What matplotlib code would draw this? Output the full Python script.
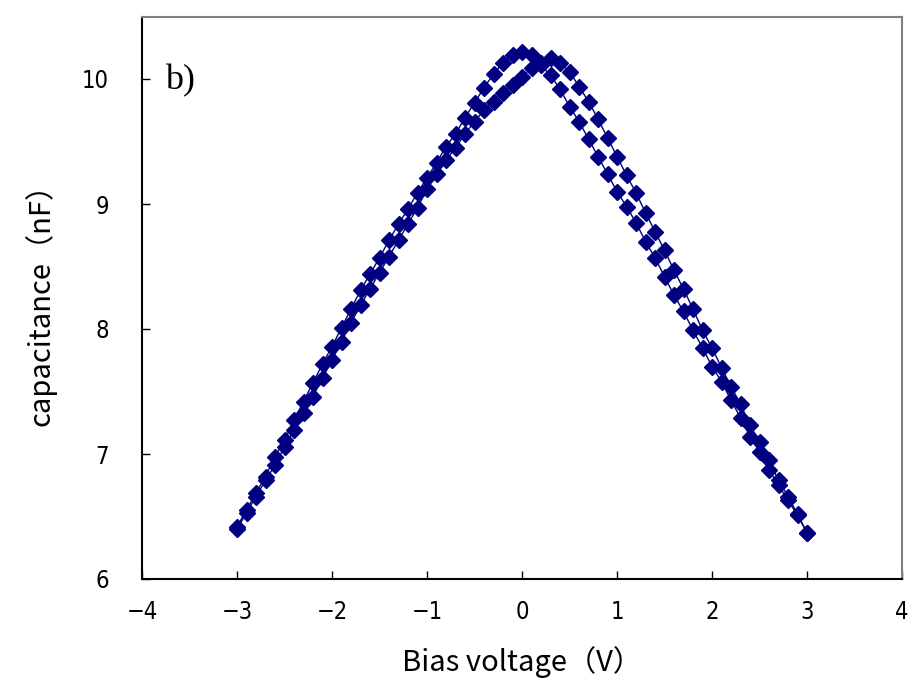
import matplotlib
matplotlib.use("Agg")
import matplotlib.pyplot as plt

# bias voltage steps (V)
voltage = [-3.0, -2.9, -2.8, -2.7, -2.6, -2.5, -2.4, -2.3, -2.2, -2.1,
           -2.0, -1.9, -1.8, -1.7, -1.6, -1.5, -1.4, -1.3, -1.2, -1.1,
           -1.0, -0.9, -0.8, -0.7, -0.6, -0.5, -0.4, -0.3, -0.2, -0.1,
           0.0, 0.1, 0.2, 0.3, 0.4, 0.5, 0.6, 0.7, 0.8, 0.9,
           1.0, 1.1, 1.2, 1.3, 1.4, 1.5, 1.6, 1.7, 1.8, 1.9,
           2.0, 2.1, 2.2, 2.3, 2.4, 2.5, 2.6, 2.7, 2.8, 2.9, 3.0]

# branch peaking near 0 V (nF)
cap_a = [6.42, 6.55, 6.69, 6.82, 6.98, 7.11, 7.27, 7.42, 7.57, 7.72,
         7.86, 8.01, 8.16, 8.31, 8.44, 8.57, 8.71, 8.84, 8.96, 9.09,
         9.21, 9.33, 9.46, 9.56, 9.69, 9.81, 9.93, 10.04, 10.13, 10.19,
         10.22, 10.19, 10.11, 10.03, 9.92, 9.78, 9.66, 9.52, 9.38, 9.24,
         9.10, 8.98, 8.85, 8.70, 8.57, 8.42, 8.27, 8.14, 7.99, 7.85,
         7.70, 7.58, 7.43, 7.29, 7.14, 7.02, 6.87, 6.75, 6.63, 6.51, 6.37]

# branch peaking near +0.3 V (nF)
cap_b = [6.40, 6.53, 6.66, 6.79, 6.91, 7.06, 7.19, 7.33, 7.46, 7.61,
         7.75, 7.90, 8.05, 8.19, 8.32, 8.45, 8.58, 8.71, 8.84, 8.97,
         9.12, 9.24, 9.35, 9.45, 9.56, 9.66, 9.75, 9.82, 9.89, 9.95,
         10.02, 10.09, 10.13, 10.17, 10.13, 10.06, 9.94, 9.82, 9.68, 9.53,
         9.38, 9.23, 9.09, 8.93, 8.78, 8.63, 8.47, 8.32, 8.16, 7.99,
         7.85, 7.69, 7.54, 7.40, 7.23, 7.10, 6.95, 6.79, 6.66, 6.52, 6.37]

navy = "#000080"
tick_font = ["DejaVu Sans"]
label_font = ["Noto Sans CJK JP", "DejaVu Sans"]

fig = plt.figure(figsize=(9.13, 6.97), dpi=100)
ax = fig.add_axes([142 / 913, 118 / 697, 760 / 913, 562.5 / 697])

ax.plot(voltage, cap_a, color=navy, linewidth=1, marker="D", markersize=8.5,
        markerfacecolor=navy, markeredgecolor=navy)
ax.plot(voltage, cap_b, color=navy, linewidth=1, marker="D", markersize=8.5,
        markerfacecolor=navy, markeredgecolor=navy)

ax.set_xlim(-4, 4)
ax.set_ylim(6, 10.5)
ax.set_xticks(range(-4, 5))
ax.set_yticks(range(6, 11))
ax.tick_params(direction="in", length=6, width=1, colors="black")
ax.tick_params(axis="x", pad=15)
ax.tick_params(axis="y", pad=24)
for lab in ax.get_xticklabels() + ax.get_yticklabels():
    lab.set_family(tick_font)
    lab.set_fontstretch("condensed")
    lab.set_fontsize(17)

for s in ["left", "bottom"]:
    ax.spines[s].set_color("black")
    ax.spines[s].set_linewidth(1.5)
for s in ["top", "right"]:
    ax.spines[s].set_color("#808080")
    ax.spines[s].set_linewidth(1.5)

ax.set_xlabel("Bias voltage（V）", family=label_font, fontsize=21, labelpad=16)
ax.set_ylabel("capacitance（nF）", family=label_font, fontsize=21, labelpad=18)

ax.text(0.03, 0.885, "b)", transform=ax.transAxes, family=["Liberation Serif"],
        fontsize=26, va="center", ha="left")

fig.savefig("out.png", dpi=100)
